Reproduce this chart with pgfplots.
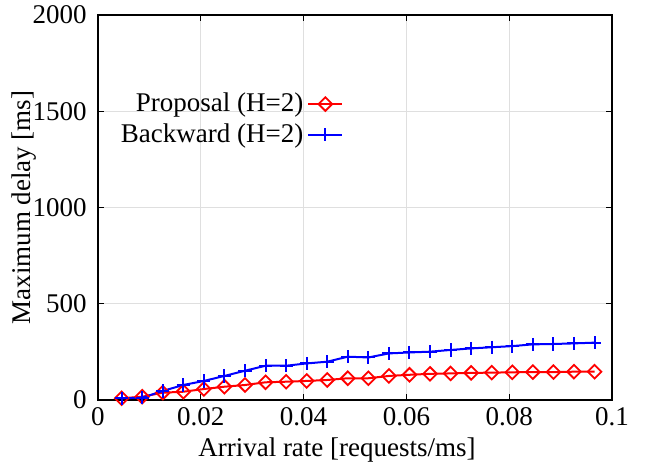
\documentclass[border=0pt]{standalone}
\usepackage{fontspec}
\setmainfont{Liberation Serif}
\usepackage{pgfplots}
\pgfplotsset{compat=1.18}
\begin{document}
\fontsize{13.5}{15}\selectfont
\begin{tikzpicture}
\begin{axis}[
  scale only axis, width=257pt, height=192.5pt,
  xmin=0, xmax=0.1, ymin=0, ymax=2000,
  xtick={0,0.02,0.04,0.06,0.08,0.1},
  xticklabels={0,0.02,0.04,0.06,0.08,0.1},
  ytick={0,500,1000,1500,2000},
  yticklabels={0,500,1000,1500,2000},
  tick align=inside, major tick length=3pt,
  xtick pos=both, ytick pos=both,
  grid=major, grid style={gray!25, line width=0.4pt},
  axis line style={line width=0.6pt},
  tick style={black, line width=0.5pt},
  xlabel={Arrival rate [requests/ms]},
  ylabel={Maximum delay [ms]},
  xlabel style={yshift=3pt, xshift=-9pt},
  ylabel style={at={(axis description cs:-0.144,0.5)}, anchor=center},
  xticklabel style={font=\fontsize{13.5}{15}\selectfont, yshift=1pt},
  yticklabel style={font=\fontsize{13.5}{15}\selectfont, xshift=-1pt},
  label style={font=\fontsize{13.5}{15}\selectfont},
  legend style={at={(rel axis cs:0.49,0.82)}, anchor=north east, draw=none, fill=none,
    font=\fontsize{13.5}{15}\selectfont, row sep=0pt},
  legend plot pos=right, legend cell align=right,
]
\addplot[red, line width=1pt, mark=square, mark size=2.4pt, mark options={solid, rotate=45, line width=0.9pt}] coordinates {
(0.0046,9)(0.0086,17)(0.0126,38)(0.0166,43)(0.0206,57)(0.0246,69)(0.0286,78)(0.0326,92)
(0.0366,95)(0.0406,99)(0.0446,104)(0.0486,113)(0.0526,113)(0.0566,125)(0.0606,131)(0.0646,136)
(0.0686,138)(0.0726,141)(0.0766,142)(0.0806,144)(0.0846,145)(0.0886,145)(0.0926,147)(0.0966,147)};
\addlegendentry{Proposal (H=2)}
\addplot[blue, line width=1pt, mark=+, mark size=3.3pt, mark options={solid, line width=1pt}] coordinates {
(0.0046,9)(0.0086,12)(0.0126,47)(0.0166,78)(0.0206,99)(0.0246,125)(0.0286,152)(0.0326,178)
(0.0366,178)(0.0406,190)(0.0446,199)(0.0486,225)(0.0526,221)(0.0566,242)(0.0606,247)(0.0646,251)
(0.0686,260)(0.0726,268)(0.0766,274)(0.0806,280)(0.0846,289)(0.0886,291)(0.0926,294)(0.0966,298)};
\addlegendentry{Backward (H=2)}
\end{axis}
\pgfresetboundingbox
\path[use as bounding box] (-49pt,-33pt) rectangle (279.5pt,200pt);
\end{tikzpicture}
\end{document}
